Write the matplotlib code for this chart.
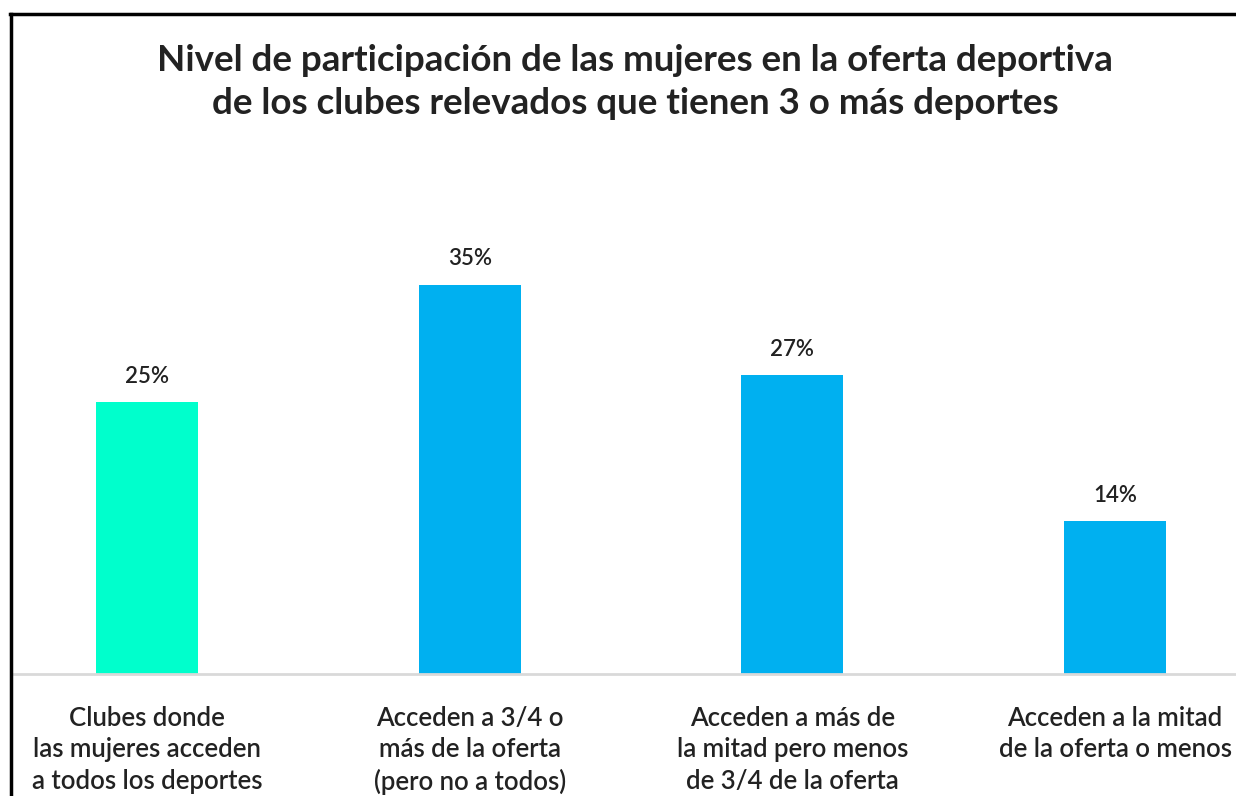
import matplotlib
matplotlib.use("Agg")
import matplotlib.pyplot as plt
from matplotlib.lines import Line2D

categories = [
    "Clubes donde\nlas mujeres acceden\na todos los deportes",
    "Acceden a 3/4 o\nmás de la oferta\n(pero no a todos)",
    "Acceden a más de\nla mitad pero menos\nde 3/4 de la oferta",
    "Acceden a la mitad\nde la oferta o menos",
]
values = [24.7, 35.4, 27.2, 13.9]
colors = ["#00FFCC", "#00B0F0", "#00B0F0", "#00B0F0"]
title = ("Nivel de participación de las mujeres en la oferta deportiva\n"
         "de los clubes relevados que tienen 3 o más deportes")

W, H = 1236, 796
fig = plt.figure(figsize=(W / 100, H / 100), dpi=100)
plt.rcParams['font.family'] = ['Lato', 'DejaVu Sans']

# axes geometry in pixels
ax_left, ax_right = 14, 1236
base_y = 674
top_y = 200
ax = fig.add_axes([ax_left / W, (H - base_y) / H, (ax_right - ax_left) / W, (base_y - top_y) / H])
spacing = 322.7
x0 = 147
ax.set_xlim(-(x0 - ax_left) / spacing, (ax_right - x0) / spacing)
px_per_pct = 11.0
ax.set_ylim(0, (base_y - top_y) / px_per_pct)

xs = list(range(len(categories)))
bars = ax.bar(xs, values, width=102 / spacing, color=colors)
for x, v in zip(xs, values):
    ax.annotate(f"{v:.0f}%", (x, v), xytext=(0, 11), textcoords="offset points",
                ha="center", va="bottom", fontsize=16, fontweight="semibold",
                color="#222222")

for s in ["top", "right", "left"]:
    ax.spines[s].set_visible(False)
ax.spines["bottom"].set_color("#d9d9d9")
ax.spines["bottom"].set_linewidth(2)
ax.set_yticks([])
ax.set_xticks(xs)
ax.set_xticklabels(categories, fontsize=18.5, fontweight="semibold", color="#222222",
                   linespacing=1.32)
ax.tick_params(axis="x", length=0, pad=23)

fig.text(635 / W, 1 - 44 / H, title, ha="center", va="top", fontsize=26.5,
         fontweight="bold", color="#222222", linespacing=1.38)

# outer frame (left and top border)
fig.add_artist(Line2D([11 / W, 11 / W], [0, 1 - 14 / H], color="black", lw=2.5,
                      transform=fig.transFigure))
fig.add_artist(Line2D([10 / W, 1], [1 - 14 / H, 1 - 14 / H], color="black", lw=2.5,
                      transform=fig.transFigure))

fig.savefig("out.png", dpi=100)
